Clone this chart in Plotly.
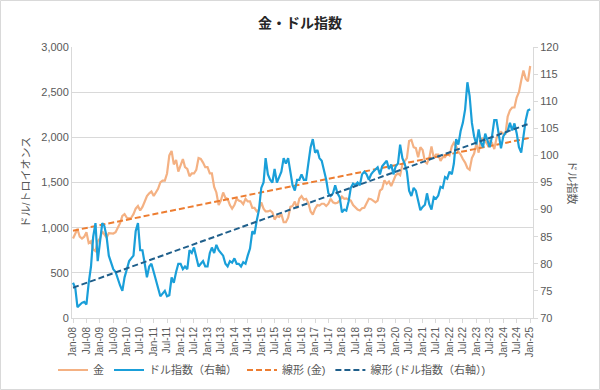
import numpy as np
import pandas as pd
import plotly.graph_objects as go

start_month = "2008-01-01"

gold = [
    880, 940, 985, 900, 880, 900, 950, 830, 850, 760, 740, 850,
    880, 960, 920, 890, 940, 940, 935, 950, 1000, 1050, 1130, 1150,
    1110, 1100, 1110, 1150, 1210, 1240, 1190, 1230, 1290, 1350, 1380, 1400,
    1350, 1400, 1430, 1500, 1520, 1520, 1600, 1800, 1850, 1700, 1750, 1620,
    1700, 1760, 1670, 1650, 1570, 1600, 1600, 1640, 1770, 1760, 1720, 1670,
    1670, 1600, 1600, 1450, 1390, 1250, 1300, 1390, 1330, 1320, 1250, 1210,
    1250, 1320, 1300, 1290, 1260, 1320, 1290, 1290, 1220, 1220, 1180, 1200,
    1280, 1210, 1180, 1180, 1190, 1170, 1090, 1130, 1120, 1150, 1060, 1060,
    1110, 1230, 1240, 1290, 1215, 1320, 1350, 1310, 1320, 1275, 1180, 1145,
    1210, 1250, 1245, 1265, 1265, 1240, 1265, 1320, 1280, 1270, 1275, 1300,
    1345, 1320, 1325, 1315, 1300, 1250, 1225, 1200, 1190, 1215, 1220, 1280,
    1320, 1315, 1295, 1280, 1300, 1410, 1430, 1525, 1485, 1510, 1460, 1520,
    1580, 1600, 1580, 1700, 1730, 1770, 1960, 1970, 1890, 1880, 1780, 1890,
    1860, 1730, 1710, 1770, 1900, 1770, 1810, 1810, 1740, 1780, 1780, 1820,
    1800, 1900, 1940, 1900, 1840, 1810, 1760, 1720, 1660, 1640, 1770, 1820,
    1930, 1830, 1980, 1990, 1960, 1920, 1960, 1940, 1870, 1990, 2040, 2060,
    2040, 2040, 2230, 2300, 2330, 2330, 2440, 2500, 2630, 2740, 2650, 2620,
    2790,
]

dollar_index = [
    76.5, 75.5, 72.0, 72.5, 72.8, 73.0, 72.5, 76.5, 79.5, 85.0, 87.5, 80.5,
    84.5, 87.5, 87.0, 85.0, 81.5, 80.0, 79.0, 78.5, 77.0, 76.0, 75.0, 77.5,
    79.0, 80.5, 81.0, 81.5, 86.0, 87.5, 82.5, 82.5, 80.0, 77.5, 79.5, 80.0,
    78.5, 77.0, 76.0, 74.0, 74.5, 75.0, 74.0, 74.2, 77.5, 76.5, 78.5, 80.0,
    80.0, 79.0, 79.5, 79.0, 82.5, 82.0, 83.0, 81.5, 79.5, 80.0, 80.5, 79.5,
    79.5, 82.0, 83.0, 82.0, 83.5, 82.5, 82.0, 81.5, 80.0, 79.5, 80.5, 80.2,
    81.0, 80.0, 80.0, 79.5, 80.3, 80.0, 81.5, 82.8, 86.0, 85.5, 88.0, 90.0,
    94.0, 95.0, 99.5, 96.5, 95.5, 95.0, 97.5, 95.0, 96.0, 97.0, 99.5, 98.5,
    99.5, 97.0, 94.5, 93.5, 95.5, 95.5, 96.5, 95.5, 95.5, 98.5, 101.5, 103.0,
    100.5, 101.0, 99.5, 99.0, 97.5, 95.5, 93.0, 92.5, 93.0, 94.5, 93.0, 92.3,
    89.5, 90.0, 89.8, 91.5, 94.0, 94.8, 94.5, 95.0, 94.5, 96.5, 97.0, 96.5,
    95.5, 96.5, 97.0, 97.5, 97.8, 96.5, 98.0, 98.5, 99.0, 97.5, 98.3, 96.5,
    98.0, 98.5, 102.0, 99.5, 98.5, 97.0, 93.5, 92.5, 94.0, 93.5, 91.8, 89.9,
    90.5, 90.9, 93.0, 91.0, 90.0, 92.3, 92.0, 92.6, 94.2, 94.0, 96.0, 95.7,
    97.0, 96.5, 98.5, 103.0, 102.0, 104.5, 106.0, 108.5, 113.5, 111.0, 106.0, 103.5,
    102.0, 104.8, 102.5, 101.5, 104.0, 102.5, 101.5, 103.5, 106.5, 106.5, 103.5, 101.3,
    103.5, 104.2, 104.5, 106.0, 104.6, 105.9, 104.1, 101.5, 100.5, 104.0, 106.5, 108.3,
    108.5,
]

dates = pd.date_range(start_month, periods=len(gold), freq="MS")
days = np.array((dates - dates[0]).days, dtype=float)

g_fit = np.polyfit(days, np.array(gold, dtype=float), 1)
d_fit = np.polyfit(days, np.array(dollar_index, dtype=float), 1)
gold_trend = np.polyval(g_fit, days)
dollar_trend = np.polyval(d_fit, days)

FONT = "Liberation Sans, Arial, Noto Sans CJK JP, sans-serif"
GRAY = "#595959"
LINE = "#d9d9d9"

fig = go.Figure()
fig.add_trace(go.Scatter(x=dates, y=gold, name="金", mode="lines",
                         line=dict(color="#F4B183", width=2.2)))
fig.add_trace(go.Scatter(x=dates, y=dollar_index, name="ドル指数（右軸）", mode="lines",
                         line=dict(color="#1A9FD9", width=2.2), yaxis="y2"))
fig.add_trace(go.Scatter(x=dates, y=gold_trend, name="線形 (金)", mode="lines",
                         line=dict(color="#ED7D31", width=2, dash="6px,3px")))
fig.add_trace(go.Scatter(x=dates, y=dollar_trend, name="線形 (ドル指数（右軸）)", mode="lines",
                         line=dict(color="#1F5F8B", width=2, dash="6px,3px"), yaxis="y2"))

L, R, T, B = 72, 533, 47, 318
W, H = R - L, B - T

fig.update_layout(
    width=600, height=390,
    margin=dict(l=L, r=600 - R, t=T, b=390 - B, autoexpand=False),
    paper_bgcolor="white", plot_bgcolor="white",
    font=dict(family=FONT, size=10, color=GRAY),
    title=dict(text="<b>金・ドル指数</b>", x=0.5, xanchor="center", xref="container",
               yref="container", y=1 - 23 / 390, yanchor="middle",
               font=dict(size=14, color="#262626")),
    showlegend=True,
    legend=dict(orientation="h", x=272 / 600, xanchor="center", xref="container",
                yref="container", y=20 / 390, yanchor="middle",
                font=dict(size=11, color=GRAY), itemwidth=30, tracegroupgap=0),
    xaxis=dict(type="date", range=["2007-12-18", "2025-02-08"], tick0="2008-01-01", dtick="M6",
               tickformat="%b-%y", tickangle=-90, ticks="outside", ticklen=4, tickcolor=LINE,
               showline=True, linecolor=LINE, showgrid=False, automargin=False,
               tickfont=dict(size=10, color=GRAY)),
    yaxis=dict(range=[0, 3000], dtick=500, tickformat=",", showgrid=True, gridcolor=LINE,
               showline=True, linecolor=LINE, zeroline=False, ticks="", automargin=False,
               tickfont=dict(size=11, color=GRAY)),
    yaxis2=dict(range=[70, 120], dtick=5, overlaying="y", side="right", showgrid=False,
                showline=True, linecolor=LINE, ticks="outside", ticklen=4, tickcolor=LINE,
                zeroline=False, automargin=False, tickfont=dict(size=11, color=GRAY)),
    annotations=[
        dict(text="ドル/トロイオンス", xref="paper", yref="paper", x=(25 - L) / W, y=0.5,
             xanchor="center", yanchor="middle",
             textangle=-90, showarrow=False, font=dict(size=11, color=GRAY)),
        dict(text="ドル指数", xref="paper", yref="paper", x=(572 - L) / W, y=0.5,
             xanchor="center", yanchor="middle",
             textangle=90, showarrow=False, font=dict(size=11, color=GRAY)),
    ],
    shapes=[dict(type="rect", xref="paper", yref="paper",
                 x0=(0.5 - L) / W, x1=(599.5 - L) / W, y0=(B - 389.5) / H, y1=(B - 0.5) / H,
                 line=dict(color=LINE, width=1), fillcolor="rgba(0,0,0,0)", layer="below")],
)

fig.write_html("out.html", config={"displayModeBar": False},
               post_script="document.body.style.margin='0';document.body.style.overflow='hidden';")
